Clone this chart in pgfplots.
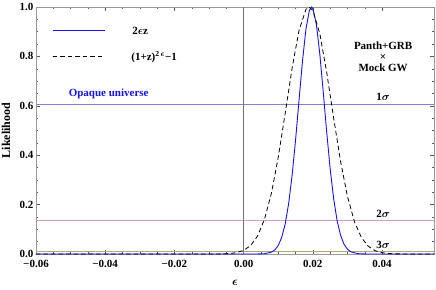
\documentclass[border=0pt]{standalone}
\usepackage{amsmath}
\usepackage{pgfplots}
\pgfplotsset{compat=1.18}
\usepackage{fontspec}
\setmainfont{Liberation Serif}
\definecolor{onesig}{RGB}{130,130,200}
\definecolor{twosig}{RGB}{210,160,185}
\definecolor{threesig}{RGB}{185,165,120}
\definecolor{curveblue}{RGB}{20,20,240}
\begin{document}
\begin{tikzpicture}
\begin{axis}[
  name=ax,
  scale only axis, width=398pt, height=247pt,
  xmin=-0.06, xmax=0.055, ymin=0, ymax=1,
  scaled x ticks=false, scaled y ticks=false,
  xtick={-0.06,-0.04,-0.02,0,0.02,0.04},
  xticklabels={−0.06,−0.04,−0.02,0.00,0.02,0.04},
  ytick={0,0.2,0.4,0.6,0.8,1.0},
  yticklabels={0.0,0.2,0.4,0.6,0.8,1.0},
  minor x tick num=3, minor y tick num=3,
  tick align=inside, major tick length=4pt, minor tick length=2pt,
  tick style={gray!70!black, line width=0.4pt},
  axis line style={gray!80},
  tick label style={font=\bfseries\fontsize{11}{12}\selectfont},
  xticklabel style={yshift=-2.5pt},
  yticklabel style={xshift=1pt},
  xlabel={$\boldsymbol{\epsilon}$},
  ylabel={\bfseries Likelihood},
  label style={font=\fontsize{12}{13}\selectfont},
  x label style={at={(axis description cs:0.5,-0.117)}, anchor=center},
  y label style={at={(axis description cs:-0.0754,0.5)}, anchor=center},
]
\addplot[onesig, line width=0.5pt, forget plot] coordinates {(-0.06,0.6065) (0.055,0.6065)};
\addplot[twosig, line width=0.6pt, forget plot] coordinates {(-0.06,0.1353) (0.055,0.1353)};
\addplot[threesig, line width=0.6pt, forget plot] coordinates {(-0.06,0.0111) (0.055,0.0111)};
\addplot[gray!90!black, line width=0.4pt, forget plot] coordinates {(0,0) (0,1)};
\addplot[color=curveblue, line width=0.9pt] coordinates {
(-0.06,0) (0.0,0) (0.002,0.000002) (0.004,0.0001) (0.006,0.0012) (0.008,0.0073) (0.009,0.0165)
(0.010,0.0345) (0.011,0.0671) (0.012,0.1213) (0.013,0.2037) (0.014,0.3181)
(0.015,0.4617) (0.016,0.6229) (0.017,0.7812) (0.018,0.9107) (0.019,0.9869)
(0.0196,1.0) (0.020,0.9942) (0.021,0.9309) (0.022,0.8103) (0.023,0.6557)
(0.024,0.4931) (0.025,0.3447) (0.026,0.2240) (0.027,0.1353) (0.028,0.0760)
(0.029,0.0397) (0.030,0.0193) (0.031,0.0087) (0.033,0.0014) (0.035,0.0002)
(0.037,0.00001) (0.055,0)};
\addplot[color=black, line width=0.8pt, dash pattern=on 4.5pt off 3pt] coordinates {
(-0.06,0) (-0.012,0.00001) (-0.008,0.0002) (-0.006,0.0006) (-0.004,0.0020) (-0.002,0.0057)
(0.000,0.0146) (0.002,0.0340) (0.004,0.0723) (0.006,0.1396) (0.008,0.2451)
(0.010,0.3916) (0.012,0.5693) (0.014,0.7527) (0.016,0.9053) (0.018,0.9905)
(0.0189,1.0) (0.020,0.9858) (0.022,0.8925) (0.024,0.7351) (0.026,0.5507)
(0.028,0.3753) (0.030,0.2327) (0.032,0.1312) (0.034,0.0673) (0.036,0.0314)
(0.038,0.0133) (0.040,0.0052) (0.042,0.0018) (0.044,0.0006) (0.046,0.0002)
(0.050,0.00001) (0.055,0)};
% legend samples
\draw[curveblue, line width=1pt] (axis cs:-0.0551,0.903) -- (axis cs:-0.0400,0.903);
\draw[black, line width=0.8pt, dash pattern=on 4.5pt off 3pt] (axis cs:-0.0551,0.798) -- (axis cs:-0.0400,0.798);
\node[font=\bfseries\fontsize{11}{12}\selectfont, anchor=base west, inner sep=0pt] at (axis cs:-0.0322,0.887) {2$\boldsymbol{\epsilon}$z};
\node[font=\bfseries\fontsize{11}{12}\selectfont, anchor=base west, inner sep=0pt] at (axis cs:-0.0325,0.783) {(1+z)$^{\mathbf{2}\,\boldsymbol{\epsilon}}$−1};
\node[text=curveblue, font=\bfseries\fontsize{11}{12}\selectfont] at (axis cs:-0.039,0.648) {Opaque universe};
\node[font=\bfseries\fontsize{11}{12}\selectfont, align=center, inner sep=0pt] at (axis cs:0.0403,0.80) {Panth+GRB\\[-1pt]×\\[-1pt]Mock GW};
\node[font=\bfseries\fontsize{11}{12}\selectfont, anchor=south, inner sep=1pt] at (axis cs:0.0403,0.615) {1$\boldsymbol{\sigma}$};
\node[font=\bfseries\fontsize{11}{12}\selectfont, anchor=south, inner sep=1pt] at (axis cs:0.0403,0.143) {2$\boldsymbol{\sigma}$};
\node[font=\bfseries\fontsize{11}{12}\selectfont, anchor=south, inner sep=1pt] at (axis cs:0.0403,0.018) {3$\boldsymbol{\sigma}$};
\end{axis}
\pgfresetboundingbox
\useasboundingbox ([shift={(-36pt,-35pt)}]ax.south west) rectangle ([shift={(2pt,7pt)}]ax.north east);
\end{tikzpicture}
\end{document}
